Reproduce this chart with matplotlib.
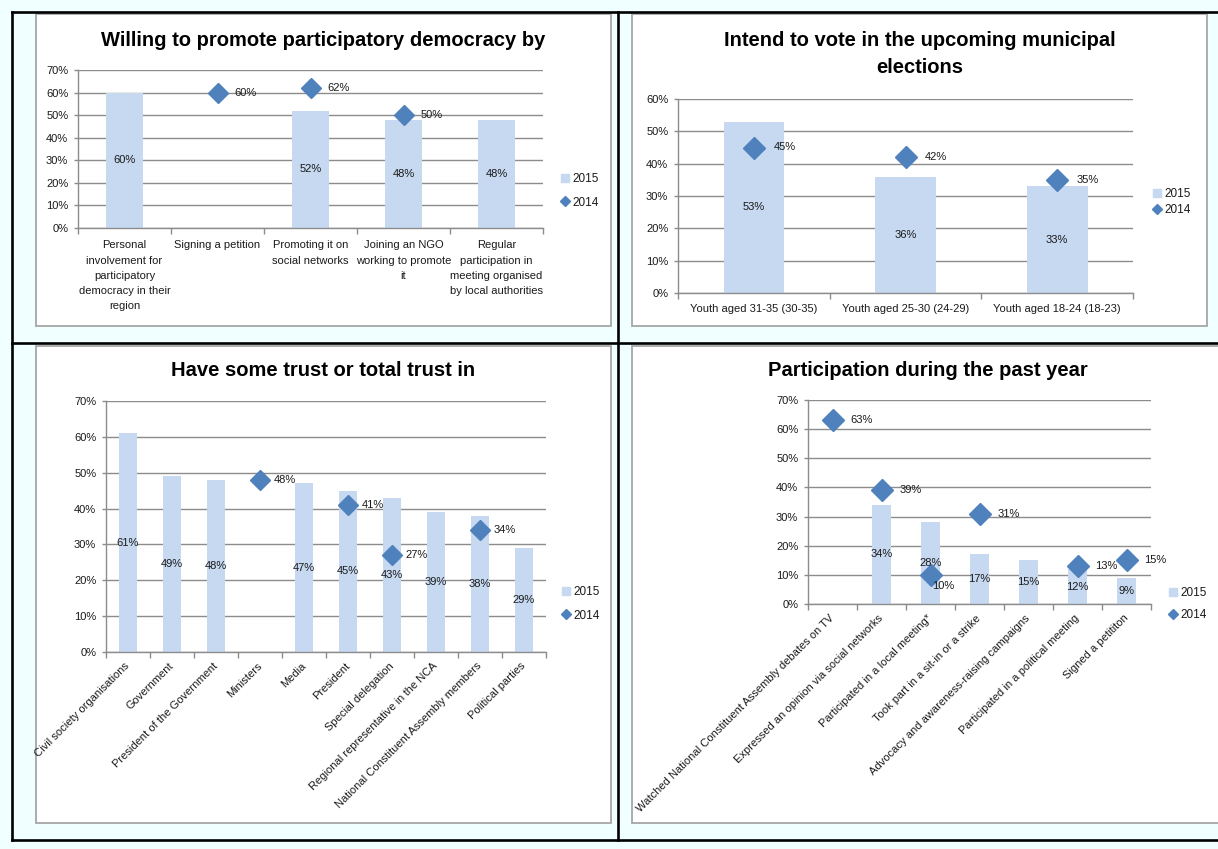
import matplotlib
matplotlib.use('Agg')
import matplotlib.pyplot as plt
from matplotlib.lines import Line2D
from matplotlib.patches import Rectangle
from matplotlib.ticker import FixedLocator, FuncFormatter
import numpy as np

W, H = 1218, 849
FONT = ['Liberation Sans Narrow', 'Liberation Sans', 'DejaVu Sans']
plt.rcParams['font.family'] = FONT

# ---------------- data ----------------
p1_title = "Willing to promote participatory democracy by"
p1_categories = ["Personal\ninvolvement for\nparticipatory\ndemocracy in their\nregion",
                 "Signing a petition",
                 "Promoting it on\nsocial networks",
                 "Joining an NGO\nworking to promote\nit",
                 "Regular\nparticipation in\nmeeting organised\nby local authorities"]
p1_2015 = [60, None, 52, 48, 48]
p1_2014 = [None, 60, 62, 50, None]

p2_title = "Intend to vote in the upcoming municipal\nelections"
p2_categories = ["Youth aged 31-35 (30-35)", "Youth aged 25-30 (24-29)", "Youth aged 18-24 (18-23)"]
p2_2015 = [53, 36, 33]
p2_2014 = [45, 42, 35]

p3_title = "Have some trust or total trust in"
p3_categories = ["Civil society organisations", "Government", "President of the Government",
                 "Ministers", "Media", "President", "Special delegation",
                 "Regional representative in the NCA", "National Constituent Assembly members",
                 "Political parties"]
p3_2015 = [61, 49, 48, None, 47, 45, 43, 39, 38, 29]
p3_2014 = [None, None, None, 48, None, 41, 27, None, 34, None]

p4_title = "Participation during the past year"
p4_categories = ["Watched National Constituent Assembly debates on TV",
                 "Expressed an opinion via social networks",
                 "Participated in a local meeting*",
                 "Took part in a sit-in or a strike",
                 "Advocacy and awareness-raising campaigns",
                 "Participated in a political meeting",
                 "Signed a petititon"]
p4_2015 = [None, 34, 28, 17, 15, 12, 9]
p4_2014 = [63, 39, 10, 31, None, 13, 15]

series_names = ["2015", "2014"]

# ---------------- style ----------------
BG = '#F0FFFF'
BAR = '#C6D9F1'
DIA = '#4F81BD'
GRID = '#8C8C8C'
TXT = '#1A1A1A'
PANEL_EDGE = '#A6A6A6'
FS = 8
TITLE_FS = 14.5

fig = plt.figure(figsize=(W / 100, H / 100), dpi=100, facecolor=BG)


def fx(x):
    return x / W


def fy(y):
    return 1 - y / H


def panel_rect(x0, y0, x1, y1):
    fig.patches.append(Rectangle((fx(x0), fy(y1)), (x1 - x0) / W, (y1 - y0) / H,
                                 transform=fig.transFigure, facecolor='white',
                                 edgecolor=PANEL_EDGE, lw=1.3, zorder=-5))


def black_line(xs, ys):
    fig.add_artist(Line2D([fx(x) for x in xs], [fy(y) for y in ys], color='black',
                          lw=1.9, transform=fig.transFigure, zorder=-4))


# panels
panel_rect(36, 14, 611, 326)
panel_rect(632, 14, 1207, 326)
panel_rect(36, 346, 611, 823)
panel_rect(632, 346, 1240, 823)

# frame lines
black_line([12, 1230], [12, 12])
black_line([12, 12], [12, 840])
black_line([12, 1230], [840, 840])
black_line([618, 618], [12, 840])
black_line([12, 1230], [343, 343])


def make_axes(x0, y0, x1, y1):
    ax = fig.add_axes([fx(x0), fy(y1), (x1 - x0) / W, (y1 - y0) / H])
    ax.set_facecolor('none')
    ax.set_zorder(5)
    return ax


def draw_chart(ax, cats, v2015, v2014, ymax, rotate, dia_off, ms, xpad,
               label_nudge=None, xfs=FS):
    n = len(cats)
    x = np.arange(n)
    ax.set_xlim(-0.5, n - 0.5)
    ax.set_ylim(0, ymax)
    # bars
    for i, v in enumerate(v2015):
        if v is None:
            continue
        ax.bar(i, v, width=0.4, color=BAR, zorder=2)
    # grid
    ax.set_yticks(np.arange(0, ymax + 1, 10))
    ax.yaxis.set_major_formatter(FuncFormatter(lambda v, p: f"{int(v)}%"))
    ax.yaxis.grid(True, color=GRID, lw=1.0, zorder=1)
    ax.set_axisbelow(True)
    for s in ['top', 'right']:
        ax.spines[s].set_visible(False)
    for s in ['left', 'bottom']:
        ax.spines[s].set_color(GRID)
        ax.spines[s].set_linewidth(1.0)
        ax.spines[s].set_zorder(3)
    ax.tick_params(axis='y', length=3, width=1, color=GRID, pad=4,
                   labelsize=FS, labelcolor=TXT)
    # category ticks at boundaries, labels at centers
    ax.xaxis.set_major_locator(FixedLocator(np.arange(n + 1) - 0.5))
    ax.xaxis.set_major_formatter(FuncFormatter(lambda v, p: ""))
    ax.xaxis.set_minor_locator(FixedLocator(x))
    ax.tick_params(axis='x', which='major', length=4, width=1, color=GRID, direction='out')
    ax.tick_params(axis='x', which='minor', length=0, pad=xpad, labelsize=xfs, labelcolor=TXT)
    if rotate:
        ax.set_xticklabels(cats, minor=True, rotation=45, ha='right',
                           va='center', rotation_mode='anchor')
    else:
        ax.set_xticklabels(cats, minor=True, ha='center', va='top', linespacing=1.65)
    # bar labels
    for i, v in enumerate(v2015):
        if v is None:
            continue
        ax.text(i, v / 2, f"{v}%", ha='center', va='center', fontsize=FS, color=TXT, zorder=5)
    # diamonds
    xs = [i for i, v in enumerate(v2014) if v is not None]
    ys = [v for v in v2014 if v is not None]
    ax.plot(xs, ys, linestyle='none', marker='D', ms=ms, color=DIA,
            markeredgecolor=DIA, zorder=4, clip_on=False)
    for i, v in zip(xs, ys):
        dx, dy = dia_off, 0
        if label_nudge and i in label_nudge:
            dx, dy = label_nudge[i]
        ax.annotate(f"{v}%", (i, v), xytext=(dx, dy), textcoords='offset points',
                    ha='left', va='center', fontsize=FS, color=TXT, zorder=5)


def add_legend(x_px, y_px, spacing):
    handles = [Line2D([], [], linestyle='none', marker='s', ms=6, color=BAR),
               Line2D([], [], linestyle='none', marker='D', ms=5, color=DIA)]
    leg = fig.legend(handles, series_names, loc='center left',
                     bbox_to_anchor=(fx(x_px), fy(y_px)), frameon=False, fontsize=8.5,
                     handlelength=0.7, handletextpad=0.25, labelspacing=spacing,
                     borderpad=0, borderaxespad=0, labelcolor=TXT)
    leg.set_zorder(6)


# ---- panel 1
ax1 = make_axes(78, 70, 543, 228)
draw_chart(ax1, p1_categories, p1_2015, p1_2014, 70, False, 12, 10.5, 9)
fig.text(fx(323), fy(40), p1_title, ha='center', va='center', fontsize=TITLE_FS,
         fontweight='bold', color='black')
add_legend(561, 191, 0.95)

# ---- panel 2
ax2 = make_axes(678, 99, 1133, 293)
draw_chart(ax2, p2_categories, p2_2015, p2_2014, 60, False, 14, 11.5, 8)
fig.text(fx(920), fy(54), p2_title, ha='center', va='center', fontsize=TITLE_FS,
         fontweight='bold', color='black', linespacing=1.5)
add_legend(1153, 202, 0.4)

# ---- panel 3
ax3 = make_axes(106, 401, 546, 652)
draw_chart(ax3, p3_categories, p3_2015, p3_2014, 70, True, 10, 10, 9)
fig.text(fx(323), fy(371), p3_title, ha='center', va='center', fontsize=TITLE_FS,
         fontweight='bold', color='black')
add_legend(562, 604, 0.95)

# ---- panel 4
ax4 = make_axes(808, 400, 1151, 604)
draw_chart(ax4, p4_categories, p4_2015, p4_2014, 70, True, 13, 11, 9,
           label_nudge={2: (1, -8)})
fig.text(fx(928), fy(370), p4_title, ha='center', va='center', fontsize=TITLE_FS,
         fontweight='bold', color='black')
add_legend(1169, 604, 0.9)

fig.savefig('out.png', dpi=100, facecolor=BG)
